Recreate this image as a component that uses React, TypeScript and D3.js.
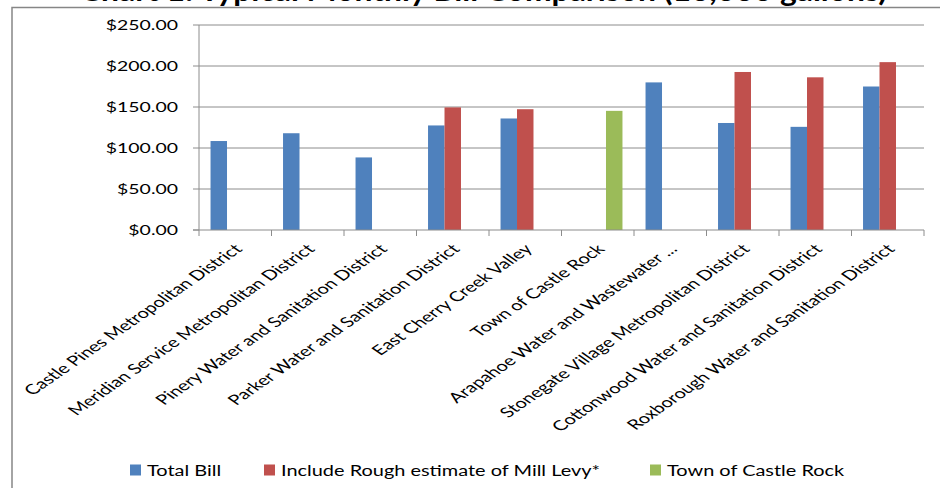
import React from "react";
import * as d3 from "d3";

const categories = [
  "Castle Pines Metropolitan District",
  "Meridian Service Metropolitan District",
  "Pinery Water and Sanitation District",
  "Parker Water and Sanitation District",
  "East Cherry Creek Valley",
  "Town of Castle Rock",
  "Arapahoe Water and Wastewater ...",
  "Stonegate Village Metropolitan District",
  "Cottonwood Water and Sanitation District",
  "Roxborough Water and Sanitation District",
];
const totalBill: (number | null)[] = [108.5, 118, 88.5, 127.5, 136, null, 180, 130.5, 125.8, 175];
const millLevy: (number | null)[] = [null, null, null, 149.5, 147.3, null, null, 192.7, 186.2, 204.7];
const castleRock: (number | null)[] = [null, null, null, null, null, 145.3, null, null, null, null];
const seriesNames = ["Total Bill", "Include Rough estimate of Mill Levy*", "Town of Castle Rock"];
const seriesColors = ["#4F81BD", "#C0504D", "#9BBB59"];
const yTicks = [0, 50, 100, 150, 200, 250];
const title = "Chart 1: Typical Monthly Bill Comparison (10,000 gallons)";

const W = 940, H = 488;
const L = 199, R = 924, T = 25, B = 230;
const SX = 1.44;
const FONT = "Lato, 'Open Sans', sans-serif";

export default function App() {
  const y = d3.scaleLinear().domain([0, 250]).range([B, T]);
  const x = d3.scaleBand<string>().domain(categories).range([L, R]).paddingInner(0).paddingOuter(0);
  const inner = d3.scaleBand<number>().domain([0, 1, 2]).range([0, x.bandwidth()]).paddingInner(0).paddingOuter(0.7);
  const series = [totalBill, millLevy, castleRock];
  const fmt = (v: number) => "$" + d3.format(".2f")(v);
  const boundaries = d3.range(categories.length + 1).map((i) => L + i * x.step());
  const legendX = [130, 264, 650];

  return (
    <svg width={W} height={H} style={{ position: "absolute", left: 0, top: 0, background: "#fff" }}>
      <rect x={0} y={0} width={W} height={H} fill="#fff" />
      {/* title (cut off at top, as in the source) */}
      <text x={80} y={1} fontFamily={FONT} fontWeight="bold" fontSize={28} fill="#000"
        textLength={807} lengthAdjust="spacingAndGlyphs">{title}</text>
      {/* chart border */}
      <path d={`M12,${H + 2} L12,7.5 L${W + 2},7.5`} fill="none" stroke="#868686" strokeWidth={1.5} />
      {/* grid */}
      {yTicks.map((t) => (
        <g key={t}>
          {t > 0 && <line x1={L} x2={R} y1={y(t)} y2={y(t)} stroke="#8c8c8c" strokeWidth={1} />}
          <line x1={L - 6} x2={L} y1={y(t)} y2={y(t)} stroke="#8c8c8c" strokeWidth={1} />
          <text transform={`translate(178,${y(t)}) scale(${SX},1)`} textAnchor="end" dominantBaseline="central"
            fontFamily={FONT} fontSize={13.5} fill="#000">{fmt(t)}</text>
        </g>
      ))}
      {/* bars */}
      {series.map((s, si) =>
        s.map((v, i) =>
          v == null ? null : (
            <rect key={`${si}-${i}`} x={(x(categories[i]) as number) + (inner(si) as number)} y={y(v)}
              width={inner.bandwidth()} height={B - y(v)} fill={seriesColors[si]} />
          )
        )
      )}
      {/* axes */}
      <line x1={L} x2={L} y1={T} y2={B} stroke="#8c8c8c" strokeWidth={1} />
      <line x1={L - 6} x2={R} y1={B} y2={B} stroke="#8c8c8c" strokeWidth={1} />
      {boundaries.map((bx, i) => (
        <line key={i} x1={bx} x2={bx} y1={B} y2={B + 6} stroke="#8c8c8c" strokeWidth={1} />
      ))}
      {/* category labels */}
      {categories.map((c) => {
        const cx = (x(c) as number) + x.bandwidth() / 2;
        return (
          <text key={c} transform={`translate(${cx + 8},${250}) scale(${SX},1) rotate(-45)`} textAnchor="end"
            fontFamily={FONT} fontSize={14} fill="#000">{c}</text>
        );
      })}
      {/* legend */}
      {seriesNames.map((n, i) => (
        <g key={n}>
          <rect x={legendX[i]} y={464.5} width={11} height={11} fill={seriesColors[i]} />
          <text transform={`translate(${legendX[i] + 17},470) scale(1.33,1)`} dominantBaseline="central"
            fontFamily={FONT} fontSize={15} fill="#000">{n}</text>
        </g>
      ))}
    </svg>
  );
}
